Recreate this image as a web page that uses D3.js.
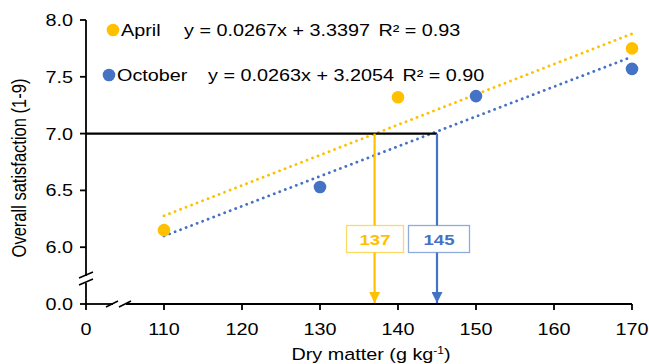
<!DOCTYPE html>
<html>
<head>
<meta charset="utf-8">
<script src="https://cdn.jsdelivr.net/npm/d3@7"></script>
<style>
  body { margin: 0; background: #fff; }
  text { font-family: "Liberation Sans", Arial, sans-serif; fill: #000; }
</style>
</head>
<body>
<div id="chart"></div>
<script>
// data
const aprilX = [110, 140, 170];
const aprilY = [6.15, 7.32, 7.75];
const octoberX = [130, 150, 170];
const octoberY = [6.53, 7.33, 7.57];
const fits = [
    {name: "April", slope: 0.0267, intercept: 3.3397, r2: "0.93", cross: 137},
    {name: "October", slope: 0.0263, intercept: 3.2054, r2: "0.90", cross: 145}
];
const xTicks = [110, 120, 130, 140, 150, 160, 170];
const yTicks = [6.0, 6.5, 7.0, 7.5, 8.0];
const threshold = 7.0;
const colors = {April: "#FFC000", October: "#4472C4"};

const width = 649, height = 364;
const stretch = 1.2; // the source figure is stretched sideways

const svg = d3.select("#chart").append("svg")
    .attr("width", width)
    .attr("height", height);

// horizontal text, widened like the source
function hText(px, py, size, anchor) {
    return svg.append("g")
        .attr("transform", `translate(${px},${py}) scale(${stretch},1)`)
        .append("text")
        .attr("font-size", size)
        .attr("text-anchor", anchor || "start");
}

// axes use a broken scale: the slot one step below the first tick stands for 0
const x = d3.scaleLinear().domain([100, 170]).range([86, 632]);
const y = d3.scaleLinear().domain([5.5, 8.0]).range([304, 20]);
const x0 = x(100), y0 = y(5.5);

// trendlines
fits.forEach(f => {
    svg.append("line")
        .attr("x1", x(110)).attr("y1", y(f.slope * 110 + f.intercept))
        .attr("x2", x(170)).attr("y2", y(f.slope * 170 + f.intercept))
        .attr("stroke", colors[f.name])
        .attr("stroke-width", 2.8)
        .attr("stroke-linecap", "round")
        .attr("stroke-dasharray", "0.1,5.8");
});

// threshold line
const maxCross = d3.max(fits, f => f.cross);
svg.append("line")
    .attr("x1", x0).attr("x2", x(maxCross))
    .attr("y1", y(threshold)).attr("y2", y(threshold))
    .attr("stroke", "#000").attr("stroke-width", 2.2);

// arrows down to the x axis
fits.forEach(f => {
    svg.append("defs").append("marker")
        .attr("id", "arrow-" + f.name)
        .attr("viewBox", "0 0 10 10")
        .attr("refX", 10).attr("refY", 5)
        .attr("markerWidth", 5).attr("markerHeight", 5)
        .attr("markerUnits", "strokeWidth")
        .attr("orient", "auto")
        .append("path")
        .attr("d", "M0,0L10,5L0,10z")
        .attr("fill", colors[f.name]);

    svg.append("line")
        .attr("x1", x(f.cross)).attr("x2", x(f.cross))
        .attr("y1", y(threshold)).attr("y2", y0 - 1)
        .attr("stroke", colors[f.name])
        .attr("stroke-width", 2.2)
        .attr("marker-end", `url(#arrow-${f.name})`);
});

// value boxes
const boxLeft = [346, 408];
const boxW = [57, 61];
fits.forEach((f, i) => {
    svg.append("rect")
        .attr("x", boxLeft[i] + 0.5).attr("y", 225.5)
        .attr("width", boxW[i]).attr("height", 27)
        .attr("fill", "#fff")
        .attr("stroke", colors[f.name])
        .attr("stroke-opacity", 0.6)
        .attr("stroke-width", 1.3);
    hText(boxLeft[i] + boxW[i] / 2 + 0.5, 245, 15.5, "middle")
        .attr("font-weight", "bold")
        .style("fill", colors[f.name])
        .text(f.cross);
});

// axes
const axisG = svg.append("g").attr("stroke", "#000").attr("stroke-width", 1.8).attr("fill", "none");
// y axis with break
axisG.append("path").attr("d", `M${x0},${y(8.0)}V${y0 - 28}`);
axisG.append("path").attr("d", `M${x0},${y0 - 21}V${y0}`);
axisG.append("path").attr("d", `M${x0 - 7},${y0 - 26}l14,-6M${x0 - 7},${y0 - 19}l14,-6`).attr("stroke-width", 1.5);
// x axis with break
axisG.append("path").attr("d", `M${x0},${y0}H${x0 + 27}`);
axisG.append("path").attr("d", `M${x0 + 40},${y0}H${x(170)}`);
axisG.append("path").attr("d", `M${x0 + 20},${y0 + 3}l12,-6M${x0 + 33},${y0 + 3}l12,-6`).attr("stroke-width", 1.5);

// ticks
yTicks.forEach(t => {
    axisG.append("path").attr("d", `M${x0 - 6},${y(t)}H${x0}`);
});
axisG.append("path").attr("d", `M${x0 - 6},${y0}H${x0}`);
xTicks.forEach(t => {
    axisG.append("path").attr("d", `M${x(t)},${y0}V${y0 + 6}`);
});
axisG.append("path").attr("d", `M${x0},${y0}V${y0 + 6}`);

// tick labels
const yLabels = [{v: 5.5, t: "0.0"}].concat(yTicks.map(v => ({v, t: d3.format(".1f")(v)})));
yLabels.forEach(d => hText(73, y(d.v) + 6, 16.5, "end").text(d.t));
const xLabels = [{v: 100, t: "0"}].concat(xTicks.map(v => ({v, t: String(v)})));
xLabels.forEach(d => hText(x(d.v), 335, 16.5, "middle").text(d.t));

// axis titles
svg.append("g")
    .attr("transform", "translate(26,168) scale(1.2,1) rotate(-90)")
    .append("text")
    .attr("text-anchor", "middle").attr("font-size", 16.5)
    .text("Overall satisfaction (1-9)");
const xt = hText(371, 360, 16.5, "middle");
xt.append("tspan").text("Dry matter (g kg");
xt.append("tspan").attr("font-size", 10).attr("dy", -6).text("-1");
xt.append("tspan").attr("dy", 6).text(")");

// points
const series = [
    {name: "April", xs: aprilX, ys: aprilY},
    {name: "October", xs: octoberX, ys: octoberY}
];
series.forEach(s => {
    svg.selectAll(null).data(s.xs.map((v, i) => [v, s.ys[i]])).join("circle")
        .attr("cx", d => x(d[0])).attr("cy", d => y(d[1]))
        .attr("r", 6.3)
        .attr("fill", colors[s.name]);
});

// legend with equations
const legendY = [30, 75];
const legendX = [113, 109];
const eqX = [184, 208];
fits.forEach((f, i) => {
    const ly = legendY[i];
    svg.append("circle").attr("cx", legendX[i]).attr("cy", ly).attr("r", 6.3).attr("fill", colors[f.name]);
    hText(legendX[i] + 8, ly + 6, 16.5).text(f.name);
    const eq = hText(eqX[i], ly + 6, 16.5);
    eq.append("tspan").text(`y = ${f.slope.toFixed(4)}x + ${f.intercept.toFixed(4)}`);
    eq.append("tspan").attr("dx", 7).text(`R² = ${f.r2}`);
});
</script>
</body>
</html>
